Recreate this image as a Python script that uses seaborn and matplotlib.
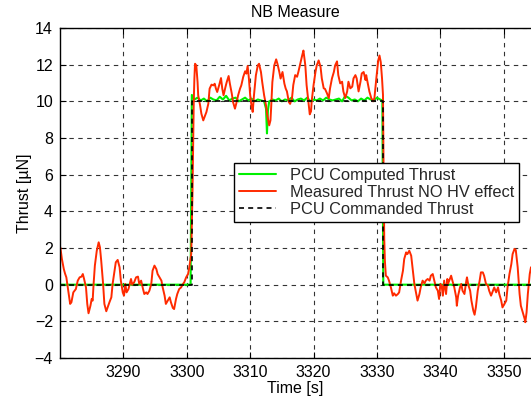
import matplotlib
matplotlib.use("Agg")
import matplotlib.pyplot as plt
import seaborn as sns
import pandas as pd

# ---------------- data ----------------
cmd_time = [3280.0, 3300.75, 3300.75, 3330.9, 3330.9, 3356.0]
cmd_val = [0, 0, 10, 10, 0, 0]

green_time = [3280.0, 3300.6, 3300.8, 3301.2, 3301.7, 3302.2, 3302.7, 3303.2, 3303.7,
              3304.2, 3304.7, 3305.2, 3305.7, 3306.2, 3306.7, 3307.2, 3307.7, 3308.2,
              3308.7, 3309.2, 3309.7, 3310.2, 3310.7, 3311.2, 3311.7, 3312.2, 3312.5,
              3312.65, 3312.8, 3313.0, 3313.5, 3314.0, 3314.5, 3315.0, 3315.5, 3316.0,
              3316.5, 3317.0, 3317.5, 3318.0, 3318.5, 3319.0, 3319.5, 3320.0, 3320.5,
              3321.0, 3321.5, 3322.0, 3322.5, 3323.0, 3323.5, 3324.0, 3324.5, 3325.0,
              3325.5, 3326.0, 3326.5, 3327.0, 3327.5, 3328.0, 3328.5, 3329.0, 3329.5,
              3330.0, 3330.5, 3330.85, 3331.0, 3356.0]
green_val = [0, 0, 10.35, 10.1, 10.2, 10.05, 10.15, 10.0, 10.2,
             10.1, 10.05, 10.25, 10.1, 10.3, 10.05, 10.15, 10.2, 10.0,
             10.1, 10.2, 10.05, 10.15, 10.0, 10.1, 10.05, 10.0, 9.6,
             8.25, 9.5, 10.0, 10.1, 10.05, 10.15, 10.0, 10.1, 10.05,
             10.2, 10.0, 10.1, 10.15, 10.05, 10.2, 10.0, 10.1, 10.05,
             10.15, 10.05, 10.2, 10.1, 10.05, 10.1, 10.15, 10.0, 10.3,
             10.2, 10.05, 10.1, 10.0, 10.15, 10.05, 10.2, 10.1, 10.05,
             10.2, 10.1, 10.05, 0.0, 0.0]

red_time = [3280.05, 3280.3, 3280.6, 3280.8, 3281.0, 3281.3, 3281.6, 3281.8, 3282.1,
            3282.5, 3282.8, 3283.1, 3283.4, 3283.6, 3283.8, 3284.1, 3284.3, 3284.5,
            3284.8, 3285.0, 3285.15, 3285.3, 3285.5, 3285.8, 3286.1, 3286.3, 3286.5,
            3286.8, 3287.0, 3287.3, 3287.6, 3287.8, 3288.1, 3288.3, 3288.6, 3288.8,
            3289.1, 3289.4, 3289.6, 3289.9, 3290.1, 3290.3, 3290.5, 3290.8, 3291.0,
            3291.2, 3291.4, 3291.7, 3292.0, 3292.3, 3292.5, 3292.8, 3293.1, 3293.3,
            3293.6, 3293.8, 3294.1, 3294.4, 3294.6, 3294.9, 3295.2, 3295.4, 3295.7,
            3296.0, 3296.2, 3296.5, 3296.7, 3297.0, 3297.3, 3297.5, 3297.8, 3298.0,
            3298.3, 3298.5, 3298.8, 3299.1, 3299.4, 3299.6, 3299.9, 3300.2, 3300.4,
            3300.7, 3300.9, 3301.1,
            3301.2, 3301.3, 3301.5, 3301.7, 3301.8, 3302.1, 3302.3, 3302.6, 3302.8,
            3303.1, 3303.4, 3303.6, 3303.9, 3304.2, 3304.4, 3304.6, 3304.8, 3305.1,
            3305.4, 3305.6, 3305.8, 3306.1, 3306.3, 3306.6, 3306.8, 3307.1, 3307.3,
            3307.6, 3307.8, 3308.1, 3308.4, 3308.6, 3308.9, 3309.2, 3309.4, 3309.6,
            3309.8, 3310.0, 3310.2, 3310.4, 3310.6, 3310.9, 3311.2, 3311.4, 3311.7,
            3311.9, 3312.2, 3312.5, 3312.7, 3313.0, 3313.2, 3313.3, 3313.5, 3313.8,
            3314.1, 3314.3, 3314.6, 3314.8, 3315.1, 3315.4, 3315.6, 3315.8, 3316.1,
            3316.3, 3316.6, 3316.8, 3317.1, 3317.4, 3317.6, 3317.9, 3318.2, 3318.4,
            3318.7, 3318.9, 3319.2, 3319.4, 3319.6, 3319.7, 3320.0, 3320.3, 3320.5,
            3320.8, 3321.1, 3321.3, 3321.6, 3321.8, 3322.1, 3322.4, 3322.6, 3322.9,
            3323.2, 3323.4, 3323.7, 3323.9, 3324.2, 3324.5, 3324.7, 3325.0, 3325.3,
            3325.5, 3325.8, 3326.1, 3326.3, 3326.6, 3326.8, 3327.1, 3327.4, 3327.6,
            3327.9, 3328.2, 3328.3, 3328.5, 3328.8, 3329.1, 3329.4, 3329.6, 3329.9,
            3330.2, 3330.4, 3330.6, 3330.8, 3330.95, 3331.05, 3331.15,
            3331.25, 3331.4, 3331.7, 3331.9, 3332.2, 3332.5, 3332.7, 3333.0, 3333.3,
            3333.5, 3333.8, 3334.1, 3334.3, 3334.6, 3334.8, 3335.1, 3335.4, 3335.6,
            3335.9, 3336.2, 3336.4, 3336.7, 3336.9, 3337.2, 3337.5, 3337.7, 3338.0,
            3338.3, 3338.5, 3338.8, 3339.1, 3339.3, 3339.6, 3339.8, 3340.0, 3340.2,
            3340.4, 3340.6, 3340.9, 3341.1, 3341.2, 3341.4, 3341.7, 3341.9, 3342.2,
            3342.5, 3342.6, 3342.8, 3343.1, 3343.3, 3343.5, 3343.8, 3344.1, 3344.2,
            3344.4, 3344.7, 3344.9, 3345.2, 3345.4, 3345.6, 3345.9, 3346.2, 3346.4,
            3346.7, 3346.9, 3347.2, 3347.5, 3347.7, 3348.0, 3348.3, 3348.5, 3348.8,
            3349.1, 3349.3, 3349.6, 3349.8, 3350.1, 3350.4, 3350.6, 3350.9, 3351.2,
            3351.4, 3351.7, 3351.9, 3352.2, 3352.5, 3352.7, 3353.0, 3353.3, 3353.4,
            3353.6, 3353.8, 3354.1, 3354.3]
red_val = [2.04, 1.4, 0.85, 0.6, 0.4, -0.33, -1.05, -0.96, -0.42,
           -0.24, 0.22, 0.4, 0.44, 0.58, 0.31, -0.15, -1.05, -1.56,
           -1.15, -0.78, -0.87, 0.04, 1.04, 1.85, 2.31, 2.04, 1.31,
           0.04, -1.05, -1.45, -1.15, -0.96, -0.69, 0.04, 0.76, 1.22,
           1.35, 0.95, 0.22, -0.42, -0.6, 0.04, -0.42, -0.24, 0.04,
           0.31, 0.0, 0.13, 0.4, 0.44, 0.04, 0.22, -0.24, -0.51,
           -0.42, -0.51, -0.33, 0.04, 0.76, 1.04, 0.85, 0.58, 0.4,
           0.22, -0.15, -0.6, -1.05, -0.87, -0.69, -0.96, -1.27, -1.33,
           -0.78, -0.51, -0.24, -0.15, 0.04, 0.13, 0.4, 0.58, 0.95,
           1.67, 5.0, 10.0,
           11.24, 12.05, 11.96, 11.05, 10.33, 9.78, 9.33, 8.96, 9.15,
           9.42, 9.87, 10.69, 10.91, 10.87, 10.96, 10.69, 10.51, 10.87,
           11.27, 10.69, 10.33, 10.78, 11.05, 11.38, 10.96, 10.42, 9.96,
           9.6, 9.87, 10.33, 10.69, 10.87, 11.33, 11.64, 11.51, 11.93,
           11.24, 10.33, 9.78, 9.42, 10.33, 11.42, 11.96, 12.05, 11.6,
           11.05, 10.33, 9.78, 9.24, 8.69, 8.96, 9.6, 11.05, 11.96,
           12.29, 12.05, 11.6, 11.24, 11.6, 10.96, 10.7, 10.54, 9.96,
           9.86, 10.18, 10.89, 11.43, 11.34, 11.6, 12.05, 12.5, 12.77,
           11.96, 10.89, 9.91, 9.29, 9.46, 10.0, 10.89, 11.6, 11.96,
           12.23, 11.88, 11.25, 10.71, 10.68, 10.45, 10.18, 10.71, 11.25,
           11.6, 11.96, 12.18, 11.43, 10.98, 11.07, 10.54, 10.18, 10.54,
           11.07, 10.71, 10.8, 11.25, 11.43, 11.25, 10.54, 11.07, 11.52,
           11.6, 11.16, 11.43, 11.07, 10.54, 10.18, 10.0, 10.18, 11.25,
           12.23, 12.5, 12.14, 11.25, 10.36, 6.0, 2.5,
           1.31, 0.49, 0.4, 0.22, -0.15, -0.6, -0.47, -0.6, -0.51,
           -0.42, 0.22, 0.76, 1.4, 1.76, 1.67, 1.85, 1.58, 0.95,
           0.04, -0.51, -0.87, -0.51, -0.15, 0.22, 0.07, 0.22, 0.31,
           0.22, 0.49, 0.58, 0.13, -0.15, -0.33, -0.78, 0.04, -0.05,
           -0.6, 0.22, -0.51, 0.31, 0.04, 0.22, 0.49, 0.22, -0.15,
           -0.69, -1.15, -0.6, -0.15, 0.04, -0.33, -0.51, 0.22, 0.4,
           0.0, -0.33, -0.87, -1.42, -1.64, -1.24, -0.33, 0.22, 0.67,
           0.67, 0.49, 0.04, -0.05, -0.33, -0.6, -0.33, -0.15, -0.42,
           -0.15, -0.51, -0.87, -1.24, -1.05, -0.87, -0.15, 0.58, 1.13,
           1.67, 1.95, 1.89, 0.95, -0.51, -1.15, -1.51, -1.87, -2.05,
           -1.51, -0.51, 0.58, 0.95]

labels = ["PCU Computed Thrust", "Measured Thrust NO HV effect", "PCU Commanded Thrust"]
x_ticks = [3290, 3300, 3310, 3320, 3330, 3340, 3350]
y_ticks = [-4, -2, 0, 2, 4, 6, 8, 10, 12, 14]

# ---------------- plot ----------------
sns.set_theme(style="white")
plt.rcParams['font.family'] = ['Liberation Sans', 'DejaVu Sans']

W, H = 531, 400
fig = plt.figure(figsize=(W / 100, H / 100), dpi=100)
ax = fig.add_axes([60 / W, 42 / H, 1 - 60 / W, 330 / H])

g_df = pd.DataFrame({"t": green_time, "v": green_val})
r_df = pd.DataFrame({"t": red_time, "v": red_val})
c_df = pd.DataFrame({"t": cmd_time, "v": cmd_val})

sns.lineplot(data=g_df, x="t", y="v", ax=ax, color="#00f000", lw=1.5,
             label=labels[0], estimator=None, sort=False)
sns.lineplot(data=r_df, x="t", y="v", ax=ax, color="#ff2a00", lw=1.4,
             label=labels[1], estimator=None, sort=False)
sns.lineplot(data=c_df, x="t", y="v", ax=ax, color="black", lw=1.2,
             linestyle=(0, (3, 2.5)), label=labels[2], estimator=None, sort=False)

ax.set_xlim(3280.0, 3354.3)
ax.set_ylim(-4, 14)
ax.set_xticks(x_ticks)
ax.set_yticks(y_ticks)
ax.grid(True, color="black", linestyle=(0, (4, 4)), linewidth=0.8, alpha=0.8)
ax.set_axisbelow(True)

for s in ["left", "bottom", "top"]:
    ax.spines[s].set_color("black")
    ax.spines[s].set_linewidth(1.0)
    ax.spines[s].set_visible(True)
ax.spines["right"].set_visible(False)

ax.tick_params(axis="both", direction="in", length=4, width=0.8, colors="black",
               labelsize=11.5, top=True, left=True, bottom=True, pad=5)
ax.tick_params(axis="both", labelcolor="black")

ax.set_xlabel("Time [s]", fontsize=11.5, color="black", labelpad=1)
ax.set_ylabel("Thrust [µN]", fontsize=11.5, color="black", labelpad=2)
ax.set_title("NB Measure", fontsize=11.5, color="black", pad=8)

leg = ax.legend(loc="upper left", bbox_to_anchor=(0.369, 0.591), borderaxespad=0,
                fontsize=11.8, frameon=True, fancybox=False, shadow=False,
                handlelength=2.3, handletextpad=0.8, labelspacing=0.12,
                borderpad=0.3)
leg.get_frame().set_edgecolor("black")
leg.get_frame().set_linewidth(1.0)
leg.get_frame().set_alpha(1.0)

fig.savefig("out.png", dpi=100, facecolor="white")
